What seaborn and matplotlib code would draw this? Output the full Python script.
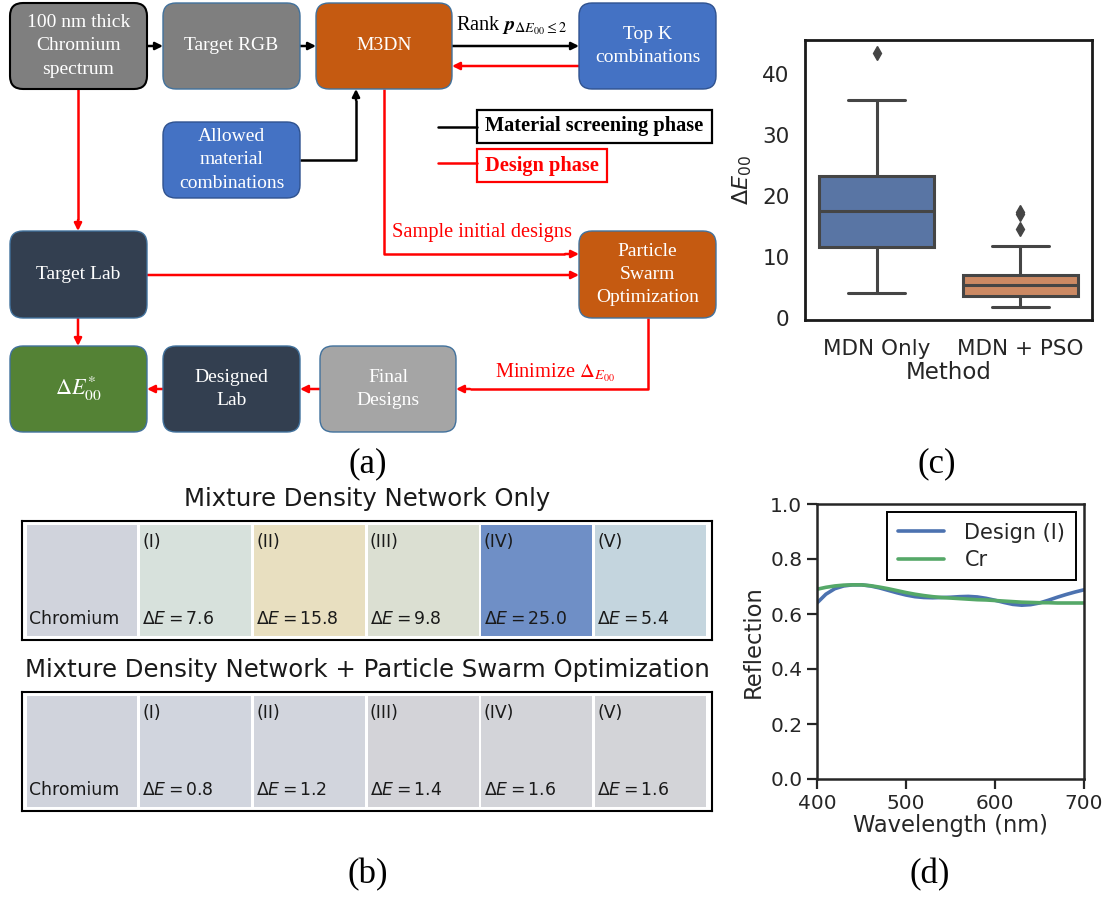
import numpy as np
import pandas as pd
import matplotlib
matplotlib.use("Agg")
import matplotlib.pyplot as plt
import seaborn as sns
from matplotlib.patches import FancyBboxPatch, Rectangle

# ---------------- data ----------------
methods = ["MDN Only", "MDN + PSO"]
de_mdn_only = [4.0, 8.0, 11.6, 14.0, 17.5, 20.0, 23.3, 35.7, 43.5]
de_mdn_pso = [1.7, 2.2, 2.8, 3.2, 3.6, 4.2, 4.6, 5.0, 5.3, 5.8, 6.2, 6.6,
              7.0, 11.8, 14.5, 17.0, 17.4]

wavelength = [400, 410, 420, 430, 440, 450, 460, 470, 480, 490, 500, 510,
              520, 530, 540, 550, 560, 570, 580, 590, 600, 610, 620, 630,
              640, 650, 660, 670, 680, 690, 700]
refl_design = [0.640, 0.672, 0.692, 0.702, 0.706, 0.706, 0.702, 0.695, 0.686,
               0.677, 0.669, 0.663, 0.660, 0.659, 0.660, 0.661, 0.663, 0.664,
               0.662, 0.657, 0.650, 0.642, 0.635, 0.632, 0.634, 0.640, 0.650,
               0.661, 0.671, 0.680, 0.688]
refl_cr = [0.690, 0.697, 0.702, 0.705, 0.706, 0.706, 0.703, 0.698, 0.692,
           0.685, 0.678, 0.672, 0.667, 0.663, 0.660, 0.658, 0.656, 0.654,
           0.652, 0.651, 0.649, 0.647, 0.645, 0.643, 0.642, 0.641, 0.641,
           0.640, 0.640, 0.640, 0.640]

design_labels = ["(I)", "(II)", "(III)", "(IV)", "(V)"]
chromium_color = "#d0d3dc"
mdn_colors = ["#d7e1dc", "#e8dfc0", "#dbdfd2", "#6f8fc6", "#c4d5de"]
mdn_de = [7.6, 15.8, 9.8, 25.0, 5.4]
pso_colors = ["#d1d5de", "#d2d5dd", "#d3d3d8", "#d3d4d9", "#d3d4d8"]
pso_de = [0.8, 1.2, 1.4, 1.6, 1.6]

# flowchart nodes: text, left, top, right, bottom, face, edge
nodes = [
    ("100 nm thick\nChromium\nspectrum", 10, 3, 147, 89, "#7f7f7f", "black"),
    ("Target RGB", 163, 3, 300, 89, "#7f7f7f", "#41719c"),
    ("M3DN", 316, 3, 452, 89, "#c55a11", "#41719c"),
    ("Top K\ncombinations", 579, 3, 716, 89, "#4472c4", "#2f528f"),
    ("Allowed\nmaterial\ncombinations", 163, 122, 300, 198, "#4472c4", "#2f528f"),
    ("Target Lab", 10, 231, 147, 318, "#333f50", "#41719c"),
    ("Particle\nSwarm\nOptimization", 579, 231, 716, 318, "#c55a11", "#41719c"),
    (r"$\Delta E^{*}_{00}$", 10, 346, 147, 432, "#548235", "#41719c"),
    ("Designed\nLab", 163, 346, 300, 432, "#333f50", "#41719c"),
    ("Final\nDesigns", 320, 346, 456, 432, "#a5a5a5", "#41719c"),
]

# ---------------- style ----------------
sns.set_theme(style="ticks")
plt.rcParams["font.family"] = ["DejaVu Sans"]
plt.rcParams["text.color"] = "#262626"
plt.rcParams["axes.labelcolor"] = "#262626"
plt.rcParams["xtick.color"] = "#262626"
plt.rcParams["ytick.color"] = "#262626"

W, H = 1111, 899
fig = plt.figure(figsize=(W / 100, H / 100), dpi=100)
fig.patch.set_facecolor("white")

# full-figure canvas in pixel units for the flow diagram and panel letters
axf = fig.add_axes([0, 0, 1, 1])
axf.set_xlim(0, W)
axf.set_ylim(H, 0)
axf.axis("off")

SERIF = "Liberation Serif"
RED = "#ff0000"
LBL = 14.7

for text, x0, y0, x1, y1, face, edge in nodes:
    lw = 1.5 if edge == "black" else 1.0
    axf.add_patch(FancyBboxPatch((x0, y0), x1 - x0, y1 - y0,
                                 boxstyle="round,pad=0,rounding_size=13",
                                 fc=face, ec=edge, lw=lw, zorder=2))
    axf.text((x0 + x1) / 2, (y0 + y1) / 2, text, color="white", family=SERIF,
             fontsize=16 if text.startswith("$") else 14, ha="center",
             va="center", linespacing=1.5, math_fontfamily="stix", zorder=3)


def arrow(p0, p1, color):
    axf.annotate("", xy=p1, xytext=p0,
                 arrowprops=dict(arrowstyle="-|>", color=color, lw=1.8,
                                 mutation_scale=11, shrinkA=0, shrinkB=0),
                 zorder=1)


def path(points, color):
    xs, ys = zip(*points)
    axf.plot(xs, ys, color=color, lw=1.8, solid_capstyle="butt", zorder=1)


# material screening phase (black)
arrow((147, 46), (163, 46), "black")
arrow((300, 46), (316, 46), "black")
arrow((452, 46), (579, 46), "black")
path([(300, 160), (356, 160), (356, 100)], "black")
arrow((356, 100), (356, 89), "black")
axf.text(456, 26, r"Rank $\mathbfit{p}_{\Delta E_{00} \leq 2}$", family=SERIF,
         fontsize=LBL, color="black", ha="left", va="center",
         math_fontfamily="stix")

# design phase (red)
arrow((579, 66), (452, 66), RED)
path([(384, 89), (384, 254), (565, 254)], RED)
arrow((565, 254), (579, 254), RED)
axf.text(392, 232, "Sample initial designs", family=SERIF, fontsize=LBL,
         color=RED, ha="left", va="center")
path([(78, 89), (78, 220)], RED)
arrow((78, 220), (78, 231), RED)
arrow((147, 275), (579, 275), RED)
arrow((78, 318), (78, 346), RED)
path([(648, 318), (648, 389), (470, 389)], RED)
arrow((470, 389), (456, 389), RED)
axf.text(495, 373, r"Minimize $\Delta_{E_{00}}$", family=SERIF, fontsize=LBL,
         color=RED, ha="left", va="center", math_fontfamily="stix")
arrow((320, 389), (300, 389), RED)
arrow((163, 389), (147, 389), RED)

# phase legend
axf.plot([438, 477], [127, 127], color="black", lw=1.8)
axf.add_patch(Rectangle((477, 110), 235, 33, fc="white", ec="black", lw=1.6))
axf.text(594.5, 126.5, "Material screening phase", family=SERIF, fontsize=LBL,
         weight="bold", color="black", ha="center", va="center")
axf.plot([438, 477], [163, 163], color=RED, lw=1.8)
axf.add_patch(Rectangle((477, 149), 130, 33, fc="white", ec=RED, lw=1.6))
axf.text(542, 165.5, "Design phase", family=SERIF, fontsize=LBL,
         weight="bold", color=RED, ha="center", va="center")

# panel letters
for letter, x, y in [("(a)", 368, 464), ("(c)", 937, 464),
                     ("(b)", 368, 875), ("(d)", 930, 875)]:
    axf.text(x, y, letter, family=SERIF, fontsize=25, color="black",
             ha="center", va="center")


def fig_rect(left, top, right, bottom):
    return [left / W, 1 - bottom / H, (right - left) / W, (bottom - top) / H]


# ---------------- (b) colour swatches ----------------
def swatch_row(top, bottom, title, colors, values):
    ax = fig.add_axes(fig_rect(22, top, 712, bottom))
    ax.set_xlim(-0.04, 6.03)
    ax.set_ylim(0, 1)
    ax.set_xticks([])
    ax.set_yticks([])
    for s in ax.spines.values():
        s.set_color("black")
        s.set_linewidth(1.5)
    cells = [chromium_color] + list(colors)
    for i, c in enumerate(cells):
        ax.add_patch(Rectangle((i, 0.034), 0.976, 0.932, fc=c, ec="none"))
    ax.text(0.02, 0.18, "Chromium", fontsize=12.4, color="#1a1a1a",
            ha="left", va="center")
    for i, (lab, v) in enumerate(zip(design_labels, values), start=1):
        ax.text(i + 0.02, 0.82, lab, fontsize=12.4, color="#1a1a1a",
                ha="left", va="center")
        ax.text(i + 0.02, 0.18, rf"$\Delta E = {v:.1f}$", fontsize=12.4,
                color="#1a1a1a", ha="left", va="center")
    axf.text(367, top - 22, title, fontsize=17.6, color="#1a1a1a",
             ha="center", va="center")


swatch_row(521, 640, "Mixture Density Network Only", mdn_colors, mdn_de)
swatch_row(692, 811, "Mixture Density Network + Particle Swarm Optimization",
           pso_colors, pso_de)

# ---------------- (c) box plot ----------------
box_df = pd.DataFrame({
    "Method": [methods[0]] * len(de_mdn_only) + [methods[1]] * len(de_mdn_pso),
    "dE": de_mdn_only + de_mdn_pso,
})
axc = fig.add_axes(fig_rect(805, 40, 1092, 320))
sns.boxplot(data=box_df, x="Method", y="dE", hue="Method",
            palette=["#4c72b0", "#dd8452"], saturation=0.75, width=0.8,
            linewidth=2.2, linecolor="#454545", legend=False,
            flierprops=dict(marker="d", markerfacecolor="#454545",
                            markeredgecolor="#454545", markersize=7),
            ax=axc)
axc.set_xlabel("Method", fontsize=16.5, labelpad=1)
axc.set_ylabel(r"$\Delta E_{00}$", fontsize=16, labelpad=6)
axc.set_yticks([0, 10, 20, 30, 40])
axc.tick_params(axis="both", length=0, labelsize=15.5, pad=14)
axc.tick_params(axis="y", pad=11)
for s in axc.spines.values():
    s.set_visible(True)
    s.set_color("#1a1a1a")
    s.set_linewidth(2)

# ---------------- (d) reflection spectra ----------------
spec_df = pd.DataFrame({
    "Wavelength": wavelength * 2,
    "Reflection": refl_design + refl_cr,
    "Curve": ["Design (I)"] * len(wavelength) + ["Cr"] * len(wavelength),
})
axd = fig.add_axes(fig_rect(817, 504, 1084, 779))
sns.lineplot(data=spec_df, x="Wavelength", y="Reflection", hue="Curve",
             palette=["#4c72b0", "#55a868"], linewidth=2.6, ax=axd)
axd.set_xlim(400, 700)
axd.set_ylim(0, 1)
axd.set_xticks([400, 500, 600, 700])
axd.set_yticks([0, 0.2, 0.4, 0.6, 0.8, 1.0])
axd.set_xlabel("Wavelength (nm)", fontsize=16.3, labelpad=1)
axd.set_ylabel("Reflection", fontsize=16.3, labelpad=4)
axd.tick_params(axis="both", length=7, width=1.6, labelsize=14.5,
                direction="out", color="#262626")
for s in axd.spines.values():
    s.set_visible(True)
    s.set_color("#262626")
    s.set_linewidth(1.8)
leg = axd.legend(loc="upper right", fontsize=15, frameon=True, fancybox=False,
                 framealpha=1, edgecolor="black", handlelength=2.2,
                 borderpad=0.5, labelspacing=0.35, handletextpad=1.0,
                 borderaxespad=0.4)
leg.get_frame().set_linewidth(1.4)
for line in leg.get_lines():
    line.set_linewidth(2.6)

fig.savefig("out.png", dpi=100, facecolor="white")
